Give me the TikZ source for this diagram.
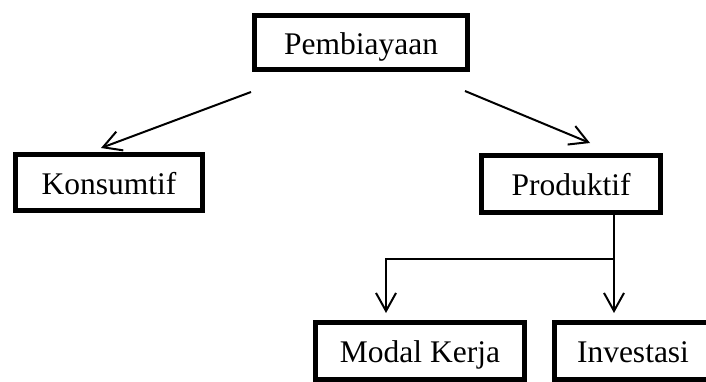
\documentclass[tikz,border=0pt]{standalone}
\usepackage{fontspec}
\setmainfont{Liberation Serif}
\usetikzlibrary{arrows.meta,calc}
\begin{document}
\begin{tikzpicture}[x=1pt,y=-1pt,
 box/.style={draw,line width=5pt,rectangle,inner sep=0pt,text height=30pt,text depth=7pt,font=\fontsize{31.5}{36}\selectfont},
 conn/.style={line width=2pt},
 arr/.style={conn,-{Straight Barb[length=18pt,width=20pt,line width=2pt]}}]
\useasboundingbox (0,0) rectangle (706,381);
\clip (0,0) rectangle (706,381);
\node[box,minimum width=213pt,minimum height=54pt] (pemb) at (361,42.5) {Pembiayaan};
\node[box,minimum width=187pt,minimum height=56pt] (kons) at (109,182.5) {Konsumtif};
\node[box,minimum width=179pt,minimum height=57pt] (prod) at (571,184) {Produktif};
\node[box,minimum width=209pt,minimum height=57pt] (modal) at (420,351) {Modal Kerja};
\node[box,minimum width=157pt,minimum height=57pt] (inv) at (633,351) {Investasi};
\draw[arr] ($(pemb.south west)+(-1,20)$) -- ($(kons.north)+(-8,-4)$);
\draw[arr] ($(pemb.south east)+(-5,19)$) -- ($(prod.north)+(19,-10)$);
\coordinate (split) at ($(prod.south)+(43,44)$);
\draw[conn] ($(prod.south)+(43,0)$) -- (split);
\draw[arr] (split) -| ($(modal.north)+(-34,-7)$);
\draw[arr] (split) -- ($(split |- inv.north)+(0,-7)$);
\end{tikzpicture}
\end{document}
